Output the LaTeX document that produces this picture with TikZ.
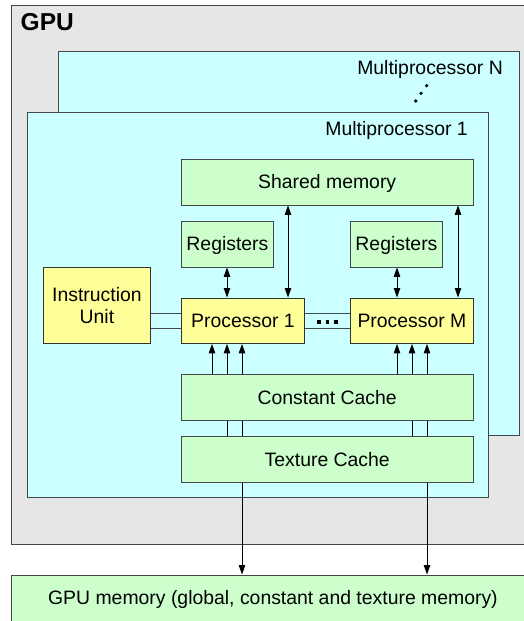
\documentclass[tikz,border=0pt]{standalone}
\usepackage{fontspec}
\setmainfont{Liberation Sans}
\usetikzlibrary{arrows.meta}
\pgfdeclarelayer{back}
\pgfdeclarelayer{mid}
\pgfsetlayers{back,mid,main}
\definecolor{gpugray}{HTML}{E6E6E6}
\definecolor{mpcyan}{HTML}{CCFFFF}
\definecolor{boxgreen}{HTML}{CCFFCC}
\definecolor{boxyellow}{HTML}{FFFF99}
\definecolor{edgegray}{HTML}{404848}
\tikzset{
  txt/.style={font=\fontsize{19.4pt}{21.5pt}\selectfont},
  box/.style={draw=edgegray, line width=0.9pt, inner sep=0pt, anchor=north west, txt},
  oneline/.style={text height=14pt, text depth=0pt},
  gbox/.style={box, oneline, fill=boxgreen},
  ybox/.style={box, fill=boxyellow, draw=black!80},
  cont/.style={draw=edgegray, line width=0.9pt, inner sep=0pt, anchor=north west},
  conn/.style={line width=0.9pt, black},
  link/.style={line width=0.9pt, edgegray},
  tip/.style={-{Triangle[length=9.5pt,width=6.5pt]}},
  tips/.style={{Triangle[length=9.5pt,width=6.5pt]}-{Triangle[length=9.5pt,width=6.5pt]}},
}
\begin{document}
\begin{tikzpicture}[x=1pt,y=-1pt]
\useasboundingbox (0,0) rectangle (524,621);
\clip (0,0) rectangle (524,621);
\begin{pgfonlayer}{back}
  \node[cont, fill=gpugray, minimum width=523pt, minimum height=539pt] (gpu) at (11,4.5) {};
  \node[font=\fontsize{24.5pt}{27pt}\selectfont\bfseries, anchor=base west, inner sep=0pt] (gpulbl) at (20.5,30.8) {GPU};
  \node[cont, fill=mpcyan, minimum width=460.5pt, minimum height=384pt] (mpn) at (58,51) {};
  \node[txt, anchor=base east, inner sep=0pt] (mpnlbl) at (503,74) {Multiprocessor N};
  \fill (415.7,101) circle (1.8) (421,93.3) circle (1.8) (426.7,85.7) circle (1.8);
  \node[cont, fill=mpcyan, minimum width=461pt, minimum height=385pt] (mp1) at (27,112) {};
  \node[txt, anchor=base east, inner sep=0pt] (mp1lbl) at (468,135) {Multiprocessor 1};
\end{pgfonlayer}

\node[gbox, minimum width=523pt, minimum height=46pt] (mem) at (11,574.5) {GPU memory (global, constant and texture memory)};
\node[gbox, minimum width=292.5pt, minimum height=46pt] (sm) at (180.5,158.5) {Shared memory};
\node[gbox, minimum width=92pt, minimum height=46pt] (r1) at (181,220.5) {Registers};
\node[gbox, minimum width=92pt, minimum height=46pt] (r2) at (350,220.5) {Registers};
\node[ybox, minimum width=107pt, minimum height=76pt, align=center] (iu) at (43,267) {Instruction\\Unit};
\node[ybox, oneline, minimum width=123pt, minimum height=45.5pt] (p1) at (181,297.5) {Processor 1};
\node[ybox, oneline, minimum width=123pt, minimum height=45.5pt] (pm) at (350,297.5) {Processor M};
\node[gbox, minimum width=292.5pt, minimum height=46pt] (cc) at (180.5,374) {Constant Cache};
\node[gbox, minimum width=292.5pt, minimum height=46pt] (tc) at (180.5,436) {Texture Cache};
\node[inner sep=0pt, anchor=center] (dots) at (327.5,322)
  {\rule{3.5pt}{3.5pt}\hspace{4.8pt}\rule{3.5pt}{3.5pt}\hspace{4.8pt}\rule{3.5pt}{3.5pt}};

\begin{pgfonlayer}{mid}
  % instruction unit to processors
  \draw[link] (iu.east |- 0,313) -- (p1.west |- 0,313);
  \draw[link] (iu.east |- 0,328) -- (p1.west |- 0,328);
  \draw[link] (p1.east |- 0,313) -- (pm.west |- 0,313);
  \draw[link] (p1.east |- 0,328) -- (pm.west |- 0,328);
  % registers and shared memory
  \draw[conn, tips] (r1.south -| 227,0) -- (p1.north -| 227,0);
  \draw[conn, tips] (r2.south -| 397,0) -- (pm.north -| 397,0);
  \draw[conn, tips] (sm.south -| 288,0) -- (p1.north -| 288,0);
  \draw[conn, tips] (sm.south -| 458,0) -- (pm.north -| 458,0);
  % caches to processors
  \draw[conn, tip] (cc.north -| 212,0) -- (p1.south -| 212,0);
  \draw[conn, tip] (tc.north -| 227,0) -- (p1.south -| 227,0);
  \draw[conn, tips] (mem.north -| 242,0) -- (p1.south -| 242,0);
  \draw[conn, tip] (cc.north -| 397,0) -- (pm.south -| 397,0);
  \draw[conn, tip] (tc.north -| 412,0) -- (pm.south -| 412,0);
  \draw[conn, tips] (mem.north -| 427,0) -- (pm.south -| 427,0);
\end{pgfonlayer}
\end{tikzpicture}
\end{document}
